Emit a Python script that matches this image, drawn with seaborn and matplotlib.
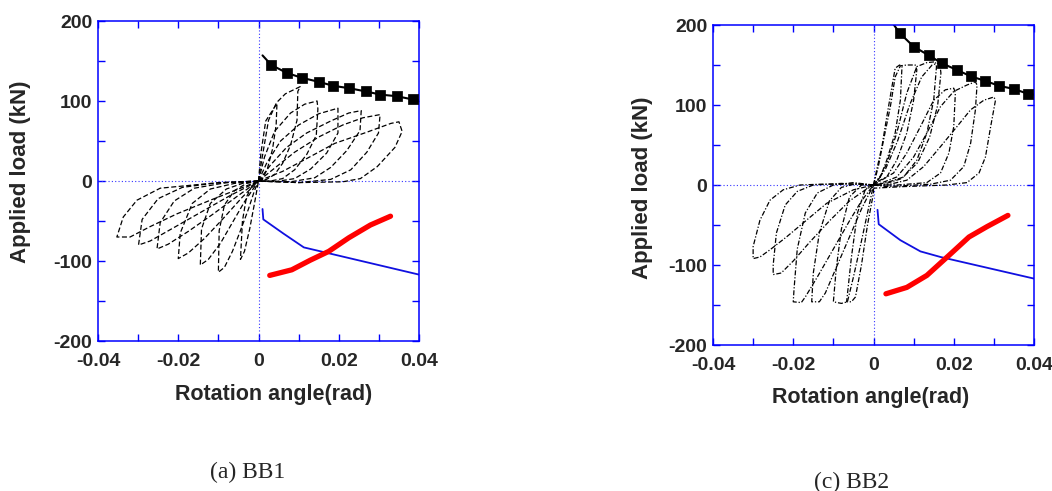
import numpy as np
import pandas as pd
import seaborn as sns
from matplotlib import pyplot as plt

# ---- data (rotation in rad, load in kN) ----
x_ticks = [-0.04, -0.03, -0.02, -0.01, 0.0, 0.01, 0.02, 0.03, 0.04]
x_tick_labels = ["-0.04", "", "-0.02", "", "0", "", "0.02", "", "0.04"]
y_ticks = [-200, -150, -100, -50, 0, 50, 100, 150, 200]
y_tick_labels = ["-200", "", "-100", "", "0", "", "100", "", "200"]

# BB1
bb1_cap_x = [0.0010, 0.0032, 0.0071, 0.0108, 0.0150, 0.0186, 0.0226, 0.0267, 0.0304, 0.0344, 0.0384, 0.0400]
bb1_cap_y = [157, 145, 135, 129, 124, 119, 116, 112, 108, 106, 102, 101]
bb1_sq_x = [0.0032, 0.0071, 0.0108, 0.0150, 0.0186, 0.0226, 0.0267, 0.0304, 0.0344, 0.0384]
bb1_sq_y = [145, 135, 129, 124, 119, 116, 112, 108, 106, 102]
bb1_blue_x = [0.0010, 0.0012, 0.0063, 0.0113, 0.0400]
bb1_blue_y = [-35, -48, -66, -83, -117]
bb1_red_x = [0.0028, 0.0083, 0.0129, 0.0175, 0.0225, 0.0279, 0.0329]
bb1_red_y = [-118, -111, -99, -88, -71, -55, -44]
bb1_loops = [
    [(0, 0), (0.0006, 35), (0.0018, 75), (0.0046, 97), (0.0044, 70), (0.0035, 40), (0.0022, 15), (0.001, 3), (0, 0)],
    [(0, 0), (0.0008, 26), (0.0025, 76), (0.0045, 98), (0.0067, 109), (0.0104, 118), (0.0098, 112), (0.0096, 76),
     (0.008, 45), (0.006, 22), (0.004, 8), (0.002, 2), (0, 0)],
    [(0, 0), (0.0015, 30), (0.004, 62), (0.008, 85), (0.0115, 96), (0.0146, 100), (0.0148, 90), (0.0144, 57),
     (0.012, 33), (0.009, 14), (0.006, 3), (0.003, 0), (0, 0)],
    [(0, 0), (0.002, 22), (0.0055, 50), (0.01, 70), (0.015, 84), (0.0198, 91), (0.0198, 60), (0.017, 35),
     (0.013, 15), (0.009, 3), (0.004, -1), (0, 0)],
    [(0, 0), (0.003, 20), (0.007, 42), (0.012, 60), (0.018, 75), (0.0225, 85), (0.0256, 88), (0.0253, 63),
     (0.022, 38), (0.018, 17), (0.014, 4), (0.008, -1), (0, 0)],
    [(0, 0), (0.004, 16), (0.009, 36), (0.015, 55), (0.021, 70), (0.026, 79), (0.0303, 83), (0.0299, 60),
     (0.027, 36), (0.023, 14), (0.018, 2), (0.01, -2), (0, 0)],
    [(0, 0), (0.006, 12), (0.012, 28), (0.019, 47), (0.027, 61), (0.033, 72), (0.035, 74), (0.0358, 62),
     (0.034, 42), (0.0296, 18), (0.0254, 3), (0.021, -1), (0.01, -2), (0, 0)],
    [(0, 0), (-0.0015, -5), (-0.003, -20), (-0.004, -50), (-0.0045, -98), (-0.0035, -88), (-0.0022, -60),
     (-0.001, -28), (0, 0)],
    [(0, 0), (-0.003, -3), (-0.006, -12), (-0.0085, -30), (-0.0098, -62), (-0.01, -114), (-0.0085, -108),
     (-0.0065, -88), (-0.0045, -62), (-0.0025, -35), (-0.001, -12), (0, 0)],
    [(0, 0), (-0.004, -3), (-0.008, -10), (-0.012, -28), (-0.0142, -60), (-0.0145, -105), (-0.0125, -98),
     (-0.0095, -78), (-0.0065, -52), (-0.0035, -26), (0, 0)],
    [(0, 0), (-0.006, -3), (-0.012, -10), (-0.0165, -28), (-0.0195, -65), (-0.02, -97), (-0.0175, -90),
     (-0.0135, -72), (-0.009, -48), (-0.004, -20), (0, 0)],
    [(0, 0), (-0.008, -2), (-0.016, -9), (-0.021, -25), (-0.0245, -52), (-0.0253, -85), (-0.0225, -79),
     (-0.0175, -63), (-0.0115, -42), (-0.005, -18), (0, 0)],
    [(0, 0), (-0.01, -2), (-0.019, -8), (-0.025, -22), (-0.029, -48), (-0.0299, -80), (-0.027, -75),
     (-0.021, -58), (-0.014, -38), (-0.007, -18), (0, 0)],
    [(0, 0), (-0.012, -3), (-0.0245, -9), (-0.0303, -24), (-0.0337, -45), (-0.0353, -70), (-0.032, -70),
     (-0.027, -57), (-0.0203, -41), (-0.012, -24), (-0.0037, -7.5), (0, 0)],
]

# BB2
bb2_cap_x = [0.0040, 0.0065, 0.0100, 0.0138, 0.0171, 0.0207, 0.0242, 0.0279, 0.0313, 0.0350, 0.0385, 0.0400]
bb2_cap_y = [208, 190, 173, 162, 152, 144, 136, 130, 124, 120, 114, 113]
bb2_sq_x = [0.0065, 0.0100, 0.0138, 0.0171, 0.0207, 0.0242, 0.0279, 0.0313, 0.0350, 0.0385]
bb2_sq_y = [190, 173, 162, 152, 144, 136, 130, 124, 120, 114]
bb2_blue_x = [0.0010, 0.0013, 0.0067, 0.0117, 0.0167, 0.0400]
bb2_blue_y = [-31, -49, -69, -83, -90, -117]
bb2_red_x = [0.0031, 0.0083, 0.0133, 0.0188, 0.0238, 0.0283, 0.0335]
bb2_red_y = [-136, -128, -113, -88, -65, -52, -38]
bb2_loops = [
    [(0, 0), (0.0008, 19), (0.0021, 48), (0.0033, 85), (0.0046, 123), (0.0054, 146), (0.0065, 150),
     (0.0071, 148), (0.0067, 106), (0.0054, 65), (0.0033, 31), (0.0017, 10), (0, 0)],
    [(0, 0), (0.0012, 23), (0.0025, 56), (0.0042, 98), (0.0054, 135), (0.0067, 149), (0.0083, 150),
     (0.0104, 150), (0.0108, 144), (0.01, 106), (0.0083, 65), (0.0058, 31), (0.0033, 10), (0, 2)],
    [(0, 0), (0.0017, 10), (0.0033, 27), (0.0058, 65), (0.0083, 115), (0.0108, 148), (0.0133, 153),
     (0.0154, 154), (0.0157, 148), (0.015, 106), (0.0133, 65), (0.0108, 31), (0.0075, 10), (0.0033, 3), (0, 0)],
    [(0, 0), (0.003, 20), (0.006, 55), (0.009, 100), (0.012, 135), (0.0146, 150), (0.0165, 153),
     (0.0168, 140), (0.016, 100), (0.014, 60), (0.011, 28), (0.007, 8), (0.002, 0), (0, 0)],
    [(0, 0), (0.005, 15), (0.0083, 40), (0.0117, 73), (0.015, 106), (0.0179, 119), (0.02, 121),
     (0.0204, 115), (0.02, 73), (0.0188, 40), (0.0167, 15), (0.0133, 3), (0.006, 0), (0, 0)],
    [(0, 0), (0.0017, 2), (0.0058, 10), (0.01, 35), (0.0133, 65), (0.0167, 98), (0.02, 117), (0.0233, 125),
     (0.0254, 129), (0.0258, 125), (0.0254, 94), (0.0242, 52), (0.0225, 23), (0.0192, 6), (0.0142, 1),
     (0.0033, -2), (0, 0)],
    [(0, 0), (0.0033, 0), (0.0083, 6), (0.0125, 23), (0.0167, 48), (0.0208, 73), (0.0242, 94), (0.0275, 106),
     (0.03, 110), (0.0304, 106), (0.0292, 73), (0.0279, 35), (0.0263, 15), (0.0233, 3), (0.0183, 0),
     (0.0075, -2), (0, -4)],
    [(0, 0), (-0.005, 1), (-0.0133, 1), (-0.0183, 0), (-0.0225, -6), (-0.0258, -19), (-0.0283, -44),
     (-0.03, -77), (-0.03, -92), (-0.0283, -90), (-0.0258, -81), (-0.0217, -65), (-0.0167, -44),
     (-0.0117, -23), (-0.005, -6), (0, 0)],
    [(0, 0), (-0.008, 2), (-0.015, 0), (-0.019, -8), (-0.022, -25), (-0.0242, -60), (-0.025, -100),
     (-0.025, -112), (-0.023, -110), (-0.02, -95), (-0.016, -72), (-0.011, -45), (-0.006, -20),
     (-0.002, -6), (0, 0)],
    [(0, 0), (-0.005, 3), (-0.01, 0), (-0.014, -10), (-0.017, -35), (-0.019, -80), (-0.0198, -130),
     (-0.02, -146), (-0.018, -147), (-0.017, -140), (-0.014, -115), (-0.01, -80), (-0.006, -45),
     (-0.003, -20), (0, 0)],
    [(0, 0), (-0.004, 2), (-0.008, -3), (-0.011, -20), (-0.0135, -60), (-0.015, -110), (-0.0154, -146),
     (-0.0135, -146), (-0.012, -135), (-0.009, -100), (-0.006, -65), (-0.003, -30), (0, 0)],
    [(0, 0), (-0.003, 0), (-0.006, -15), (-0.008, -55), (-0.0093, -105), (-0.01, -146), (-0.008, -148),
     (-0.0065, -146), (-0.005, -115), (-0.003, -70), (-0.0015, -35), (0, 0)],
    [(0, 0), (-0.002, -5), (-0.004, -35), (-0.0055, -90), (-0.0067, -146), (-0.0055, -146),
     (-0.0045, -140), (-0.003, -100), (-0.0015, -50), (0, -10), (0, 0)],
]


def loops_frame(loops):
    rows = []
    for i, loop in enumerate(loops):
        for x, y in loop:
            rows.append({"x": x, "y": y, "loop": i})
    return pd.DataFrame(rows)


sns.set_style("white")
plt.rcParams["font.family"] = ["Liberation Sans", "DejaVu Sans"]

fig = plt.figure(figsize=(10.52, 4.91), dpi=100)
ax1 = fig.add_axes([98 / 1052, 1 - 341 / 491, 321 / 1052, 320 / 491])
ax2 = fig.add_axes([713 / 1052, 1 - 345 / 491, 321 / 1052, 320 / 491])


def draw_panel(ax, loops, dash, cap_x, cap_y, sq_x, sq_y, blue_x, blue_y, red_x, red_y):
    ax.axhline(0, color="#3333ff", lw=0.8, ls=(0, (1, 2)))
    ax.axvline(0, color="#3333ff", lw=0.8, ls=(0, (1, 2)))
    sns.lineplot(data=loops_frame(loops), x="x", y="y", units="loop", estimator=None, sort=False,
                 color="black", lw=0.9, linestyle=dash, ax=ax, legend=False)
    sns.lineplot(x=cap_x, y=cap_y, sort=False, color="black", lw=1.5, ax=ax)
    sns.scatterplot(x=sq_x, y=sq_y, marker="s", s=42, color="black", edgecolor="black", ax=ax, zorder=5)
    sns.lineplot(x=blue_x, y=blue_y, sort=False, color="#1010e0", lw=1.3, ax=ax)
    sns.lineplot(x=red_x, y=red_y, sort=False, color="#ff0000", lw=3.8, ax=ax, solid_capstyle="round")

    ax.set_xlim(-0.04, 0.04)
    ax.set_ylim(-200, 200)
    ax.set_xticks(x_ticks)
    ax.set_xticklabels(x_tick_labels, fontsize=14, fontweight="bold")
    ax.set_yticks(y_ticks)
    ax.set_yticklabels(y_tick_labels, fontsize=14, fontweight="bold")
    ax.tick_params(direction="in", length=5, width=1, color="#0000ff", top=True, right=True,
                   bottom=True, left=True)
    ax.tick_params(axis="x", pad=9)
    ax.tick_params(axis="y", pad=4)
    for sp in ax.spines.values():
        sp.set_color("#0000ff")
        sp.set_linewidth(1.1)
        sp.set_visible(True)
    ax.set_xlabel("Rotation angle(rad)", fontsize=15.5, fontweight="bold")
    ax.set_ylabel("Applied load (kN)", fontsize=16, fontweight="bold")


draw_panel(ax1, bb1_loops, (0, (4, 2)), bb1_cap_x, bb1_cap_y, bb1_sq_x, bb1_sq_y,
           bb1_blue_x, bb1_blue_y, bb1_red_x, bb1_red_y)
draw_panel(ax2, bb2_loops, (0, (4, 1.5, 1, 1.5)), bb2_cap_x, bb2_cap_y, bb2_sq_x, bb2_sq_y,
           bb2_blue_x, bb2_blue_y, bb2_red_x, bb2_red_y)

ax1.xaxis.set_label_coords(0.548, -0.135)
ax1.yaxis.set_label_coords(-0.21, 0.53)
ax2.xaxis.set_label_coords(0.492, -0.132)
ax2.yaxis.set_label_coords(-0.187, 0.49)

fig.text(248 / 1052, 1 - 478 / 491, "(a) BB1", family="Liberation Serif", fontsize=17,
         ha="center", va="baseline")
fig.text(852 / 1052, 1 - 488 / 491, "(c) BB2", family="Liberation Serif", fontsize=17,
         ha="center", va="baseline")

fig.savefig("out.png", dpi=100)
